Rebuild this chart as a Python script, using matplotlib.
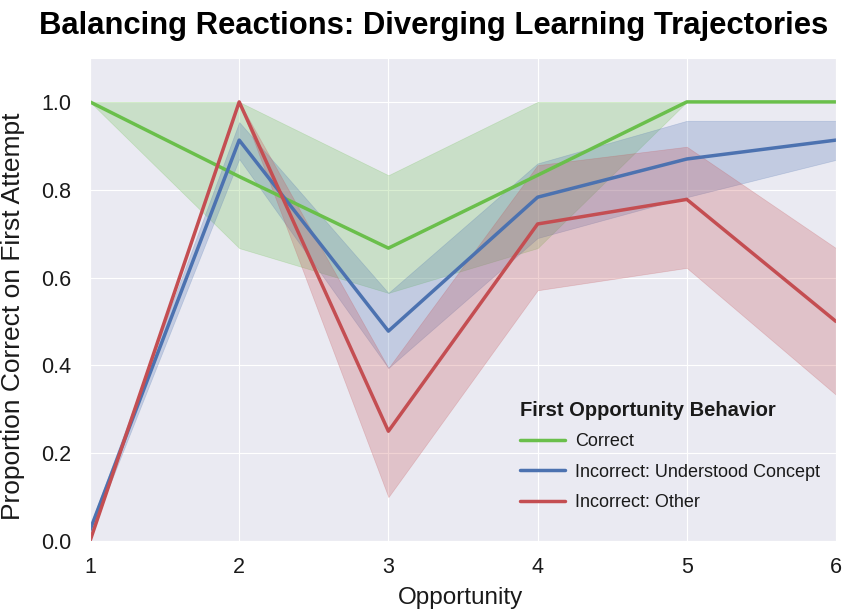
import numpy as np
import matplotlib.pyplot as plt
import seaborn as sns

opportunity = [1, 2, 3, 4, 5, 6]

correct_mean = [1.0, 0.83, 0.667, 0.833, 1.0, 1.0]
correct_lo = [1.0, 0.667, 0.565, 0.667, 1.0, 1.0]
correct_hi = [1.0, 1.0, 0.833, 1.0, 1.0, 1.0]

understood_mean = [0.025, 0.913, 0.478, 0.783, 0.87, 0.913]
understood_lo = [0.015, 0.87, 0.394, 0.69, 0.783, 0.868]
understood_hi = [0.035, 0.954, 0.565, 0.86, 0.957, 0.957]

other_mean = [0.0, 1.0, 0.25, 0.722, 0.778, 0.5]
other_lo = [0.0, 1.0, 0.1, 0.571, 0.622, 0.333]
other_hi = [0.0, 1.0, 0.394, 0.856, 0.898, 0.667]

labels = ["Correct", "Incorrect: Understood Concept", "Incorrect: Other"]
colors = ["#6abf4b", "#4c72b0", "#c44e52"]

sns.set_style("darkgrid", {"grid.linewidth": 1.6})
plt.rcParams['font.family'] = ['Liberation Sans', 'DejaVu Sans']
plt.rcParams['text.color'] = '#1a1a1a'
plt.rcParams['axes.labelcolor'] = '#1a1a1a'
plt.rcParams['xtick.color'] = '#1a1a1a'
plt.rcParams['ytick.color'] = '#1a1a1a'

fig = plt.figure(figsize=(8.45, 6.12), dpi=100)
ax = fig.add_axes([90 / 845, 71 / 612, 746 / 845, 483 / 612])

series = [
    (correct_mean, correct_lo, correct_hi),
    (understood_mean, understood_lo, understood_hi),
    (other_mean, other_lo, other_hi),
]
for (mean, lo, hi), label, color in zip(series, labels, colors):
    ax.fill_between(opportunity, lo, hi, color=color, alpha=0.25, linewidth=0.5)
    ax.plot(opportunity, mean, color=color, linewidth=2.5, label=label)

ax.set_xlim(1, 6)
ax.set_ylim(0, 1.1)
ax.set_xticks(opportunity)
ax.set_yticks(np.arange(0, 1.01, 0.2))
ax.set_yticklabels(["%.1f" % v for v in np.arange(0, 1.01, 0.2)])
ax.tick_params(axis="x", labelsize=15.5, pad=8)
ax.tick_params(axis="y", labelsize=15.5, pad=10)
ax.set_xlabel("Opportunity", fontsize=17.5)
ax.set_ylabel("Proportion Correct on First Attempt", fontsize=19)
ax.xaxis.set_label_coords(0.497, -0.095)
ax.yaxis.set_label_coords(-0.087, 0.465)
fig.suptitle("Balancing Reactions: Diverging Learning Trajectories",
             fontsize=22.3, fontweight="bold", color="black", x=0.513, y=0.982)

leg = ax.legend(loc="lower right", bbox_to_anchor=(1.0, 0.028), frameon=False,
                title="First Opportunity Behavior", fontsize=13,
                handlelength=2.5, handletextpad=0.55, labelspacing=0.75)
leg.get_title().set_fontweight("bold")
leg.get_title().set_fontsize(14.5)
leg._legend_box.align = "left"

fig.savefig("out.png", dpi=100)
